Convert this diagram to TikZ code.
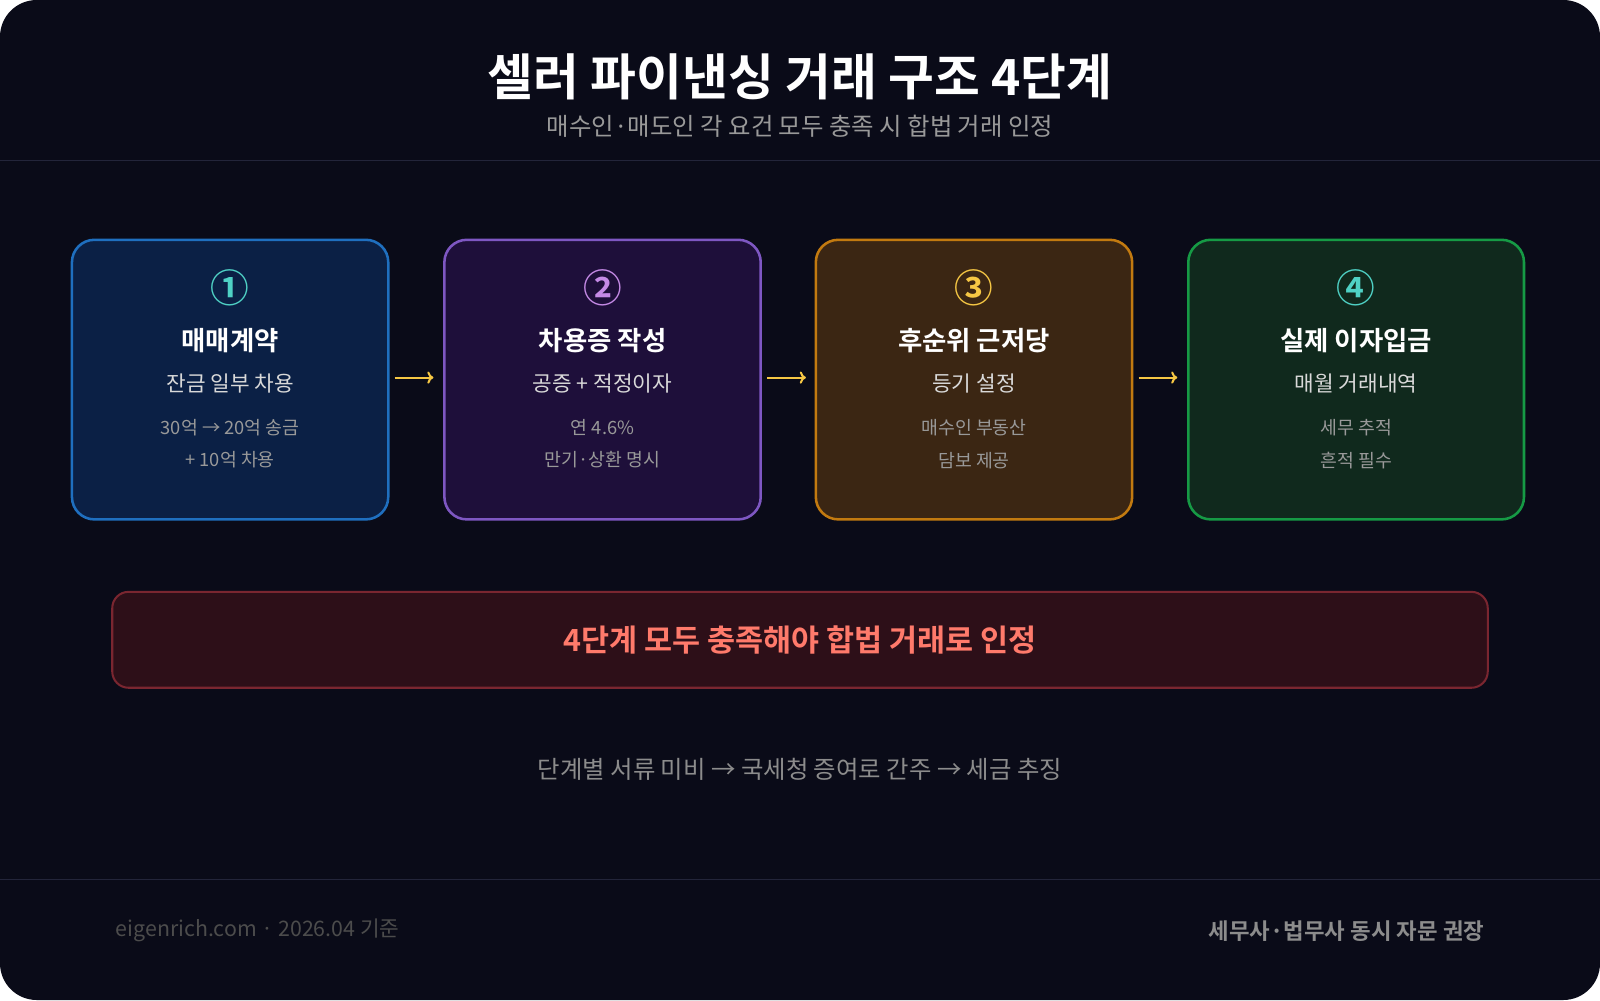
\documentclass[tikz,border=0pt]{standalone}
\usepackage{fontspec}
\setmainfont{Noto Sans CJK KR}
\newfontfamily\boldkr{Noto Sans CJK KR Bold}
\usetikzlibrary{positioning}
\usetikzlibrary{arrows.meta}
\definecolor{bgcol}{HTML}{0A0B18}
\definecolor{rulecol}{HTML}{23253A}
\definecolor{arrcol}{HTML}{F6C744}
\tikzset{stepbox/.style={draw, line width=2.5pt, rounded corners=22bp, minimum width=310bp, minimum height=274bp}, numtxt/.style={font=\boldkr\fontsize{38}{38}\selectfont}, headtxt/.style={text=white, font=\boldkr\fontsize{26}{26}\selectfont}, subtxt/.style={text=white!85!black, font=\fontsize{21}{21}\selectfont}, smalltxt/.style={text=white!60!black, font=\fontsize{18}{32}\selectfont, align=center}, flow/.style={-{To[length=6bp,width=12bp]}, arrcol, line width=2pt}}
\begin{document}
\begin{tikzpicture}[x=1bp,y=-1bp]
\useasboundingbox (0,0) rectangle (1568,980);
\fill[white] (0,0) rectangle (1568,980);
\fill[bgcol, rounded corners=36bp] (0,0) rectangle (1568,980);
%% header
\node (title) at (784,75) [text=white, font=\boldkr\fontsize{49}{49}\selectfont] {셀러 파이낸싱 거래 구조 4단계};
\node (subtitle) at (784,124) [text=white!60!black, font=\fontsize{24}{24}\selectfont] {매수인·매도인 각 요건 모두 충족 시 합법 거래 인정};
\draw[rulecol, line width=1pt] (0,157) -- (1568,157);
\draw[rulecol, line width=1pt] (0,862) -- (1568,862);
%% steps
\node (s1) at (225.5,372) [stepbox, draw={rgb,255:red,31;green,111;blue,191}, fill={rgb,255:red,11;green,32;blue,69}] {};
\node (s2) at (590.5,372) [stepbox, draw={rgb,255:red,126;green,87;blue,194}, fill={rgb,255:red,30;green,15;blue,58}] {};
\node (s3) at (954.5,372) [stepbox, draw={rgb,255:red,194;green,122;blue,16}, fill={rgb,255:red,59;green,38;blue,19}] {};
\node (s4) at (1329,372) [stepbox, minimum width=329bp, draw={rgb,255:red,22;green,154;blue,69}, fill={rgb,255:red,16;green,41;blue,29}] {};
\node (n1) at (225.5,282) [numtxt, text={rgb,255:red,79;green,209;blue,197}] {①};
\node (h1) at (225.5,334) [headtxt] {매매계약};
\node (t1) at (225.5,376) [subtxt] {잔금 일부 차용};
\node (d1) at (225.5,435) [smalltxt] {30억 → 20억 송금\\+ 10억 차용};
\node (n2) at (590.5,282) [numtxt, text={rgb,255:red,197;green,138;blue,230}] {②};
\node (h2) at (590.5,334) [headtxt] {차용증 작성};
\node (t2) at (590.5,376) [subtxt] {공증 + 적정이자};
\node (d2) at (590.5,435) [smalltxt] {연 4.6\%\\만기·상환 명시};
\node (n3) at (954.5,282) [numtxt, text={rgb,255:red,246;green,199;blue,68}] {③};
\node (h3) at (954.5,334) [headtxt] {후순위 근저당};
\node (t3) at (954.5,376) [subtxt] {등기 설정};
\node (d3) at (954.5,435) [smalltxt] {매수인 부동산\\담보 제공};
\node (n4) at (1329,282) [numtxt, text={rgb,255:red,79;green,209;blue,197}] {④};
\node (h4) at (1329,334) [headtxt] {실제 이자입금};
\node (t4) at (1329,376) [subtxt] {매월 거래내역};
\node (d4) at (1329,435) [smalltxt] {세무 추적\\흔적 필수};
\draw[flow] (s1.east) ++(5,-2) coordinate (a1) -- ++(38,0) coordinate (b1);
\draw[flow] (s2.east) ++(5,-2) coordinate (a2) -- ++(38,0) coordinate (b2);
\draw[flow] (s3.east) ++(5,-2) coordinate (a3) -- ++(38,0) coordinate (b3);
%% summary
\node (rule) at (784,627) [draw={rgb,255:red,122;green,38;blue,48}, line width=2pt, fill={rgb,255:red,45;green,15;blue,24}, rounded corners=16bp, minimum width=1348bp, minimum height=94bp, text={rgb,255:red,255;green,122;blue,107}, font=\boldkr\fontsize{30}{30}\selectfont] {4단계 모두 충족해야 합법 거래로 인정};
\node (warn) at (784,754) [text=white!55!black, font=\fontsize{24}{24}\selectfont] {단계별 서류 미비 → 국세청 증여로 간주 → 세금 추징};
%% footer
\node (site) at (110,912) [anchor=west, text=white!30!black, font=\fontsize{21}{21}\selectfont] {eigenrich.com · 2026.04 기준};
\node (advice) at (1458,912) [anchor=east, text=white!55!black, font=\boldkr\fontsize{22}{22}\selectfont] {세무사·법무사 동시 자문 권장};
\end{tikzpicture}
\end{document}
